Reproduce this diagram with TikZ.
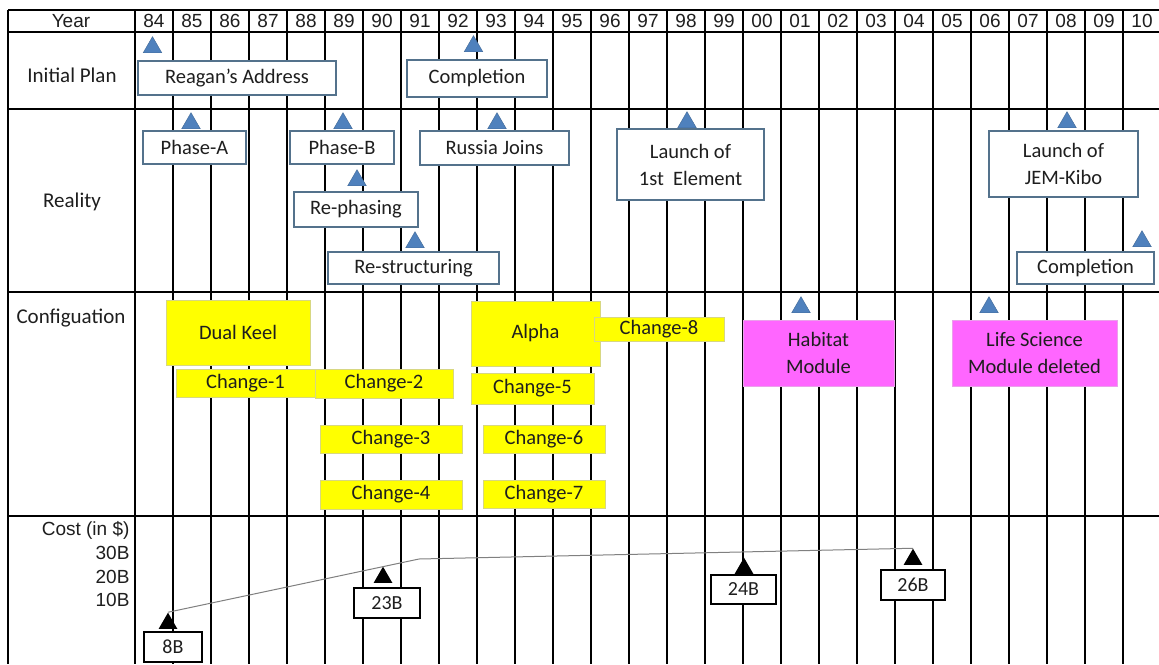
\documentclass[tikz,border=0pt]{standalone}
\usepackage{fontspec}
\setmainfont{Carlito}
\newfontfamily\arialf{Liberation Sans}
\usetikzlibrary{shapes.geometric}
\definecolor{triblue}{RGB}{79,129,189}
\definecolor{tribord}{RGB}{65,105,150}
\definecolor{boxbord}{RGB}{84,114,140}
\definecolor{yel}{RGB}{255,255,0}
\definecolor{yelbord}{RGB}{215,215,130}
\definecolor{mag}{RGB}{255,102,255}
\definecolor{magbord}{RGB}{235,160,235}
\definecolor{inkc}{RGB}{30,30,30}
\begin{document}
\begin{tikzpicture}[x=1pt,y=-1pt,
  vgrid/.style={line width=2pt,black},
  hgrid/.style={line width=2.4pt,black},
  tri/.style={regular polygon,regular polygon sides=3,minimum size=21.5pt,inner sep=0pt,fill=triblue,draw=tribord,line width=0.4pt},
  btri/.style={regular polygon,regular polygon sides=3,minimum size=21.5pt,inner sep=0pt,fill=black},
  txt/.style={font=\fontsize{20.5}{27}\selectfont,align=center,text=inkc},
  wbox/.style={txt,draw=boxbord,fill=white,line width=1.2pt,inner sep=0pt},
  ybox/.style={txt,draw=yelbord,fill=yel,line width=0.8pt,inner sep=0pt},
  mbox/.style={txt,draw=magbord,fill=mag,line width=0.8pt,inner sep=0pt},
  cbox/.style={font=\fontsize{20}{22}\selectfont,text=inkc,draw=black,fill=white,line width=1.5pt,inner sep=0pt},
  yearlbl/.style={font=\arialf\fontsize{19}{21}\selectfont,text=inkc},
  costlbl/.style={font=\arialf\fontsize{19}{21}\selectfont,anchor=east,text=inkc},
  rowlbl/.style={font=\fontsize{21}{24}\selectfont,text=inkc},
  costline/.style={draw=gray,line width=1pt}
]
\useasboundingbox (0,0) rectangle (1159,664);
\clip (0,0) rectangle (1159,664);
\fill[white] (0,0) rectangle (1159,664);
% grid
\draw[vgrid] (8,10) -- (8,664);
\foreach \i in {0,...,27} \draw[vgrid] (135+38*\i,10) -- (135+38*\i,664);
\foreach \yy in {10,32,109,292,516} \draw[hgrid] (8,\yy) -- (1159,\yy);
% header
\node[yearlbl] (year) at (71,21) {Year};
\foreach \yr [count=\i from 0] in {84,85,86,87,88,89,90,91,92,93,94,95,96,97,98,99,00,01,02,03,04,05,06,07,08,09,10}
  \node[yearlbl] (yr\i) at (154+38*\i,21) {\yr};
% row labels
\node[rowlbl] (lip) at (72,75) {Initial Plan};
\node[rowlbl] (lreal) at (72,202) {Reality};
\node[rowlbl,anchor=west] (lconf) at (13,318) {Configuation};
\node[costlbl] (lcost) at (133,530) {Cost (in \$)};
\node[costlbl] (l30) at (133,553) {30B};
\node[costlbl] (l20) at (133,577) {20B};
\node[costlbl] (l10) at (133,600) {10B};
% initial plan
\node[wbox,minimum width=198pt,minimum height=34pt] (reagan) at (237,78) {Reagan's Address};
\node[wbox,minimum width=140pt,minimum height=37pt] (compl1) at (477,78.5) {Completion};
\node[tri] (tip1) at (152.5,47.4) {};
\node[tri] (tip2) at (473.5,46.4) {};
% reality
\node[wbox,minimum width=103pt,minimum height=33pt] (phaseA) at (194.5,147.5) {Phase-A};
\node[wbox,minimum width=104pt,minimum height=33pt] (phaseB) at (342,147.5) {Phase-B};
\node[wbox,minimum width=124pt,minimum height=35pt] (rephase) at (356,209.5) {Re-phasing};
\node[wbox,minimum width=171pt,minimum height=32pt] (restr) at (413.5,268) {Re-structuring};
\node[wbox,minimum width=149pt,minimum height=34pt] (russia) at (494.5,148) {Russia Joins};
\node[wbox,minimum width=147pt,minimum height=71pt] (launch1) at (690.5,164.5) {Launch of\\1st~~Element};
\node[wbox,minimum width=149pt,minimum height=66pt] (launchjem) at (1063.5,164) {Launch of\\JEM-Kibo};
\node[wbox,minimum width=137pt,minimum height=32pt] (compl2) at (1085.5,268) {Completion};
\node[tri] (tA) at (191,123.4) {};
\node[tri] (tB) at (343,123.4) {};
\node[tri] (tRe) at (357,180.4) {};
\node[tri] (tRs) at (415,242.4) {};
\node[tri] (tRu) at (497,123.4) {};
\node[tri] (tL1) at (687,122.4) {};
\node[tri] (tJ) at (1067,122.4) {};
\node[tri] (tC2) at (1142,241.4) {};
% configuration
\node[ybox,minimum width=144pt,minimum height=65pt] (dual) at (238,332.5) {Dual Keel};
\node[ybox,minimum width=139pt,minimum height=28pt] (ch1) at (245.5,383) {Change-1};
\node[ybox,minimum width=138pt,minimum height=29pt] (ch2) at (384,383.5) {Change-2};
\node[ybox,minimum width=142pt,minimum height=28pt] (ch3) at (391,439) {Change-3};
\node[ybox,minimum width=142pt,minimum height=29pt] (ch4) at (391,494.5) {Change-4};
\node[ybox,minimum width=129pt,minimum height=65pt] (alpha) at (535.5,333.5) {Alpha};
\node[ybox,minimum width=123pt,minimum height=31pt] (ch5) at (532.5,388.5) {Change-5};
\node[ybox,minimum width=122pt,minimum height=28pt] (ch6) at (544,439) {Change-6};
\node[ybox,minimum width=122pt,minimum height=28pt] (ch7) at (544,494) {Change-7};
\node[ybox,minimum width=130pt,minimum height=24pt] (ch8) at (659,329) {Change-8};
\node[mbox,minimum width=151pt,minimum height=66pt] (habitat) at (818.5,353) {Habitat\\Module};
\node[mbox,minimum width=165pt,minimum height=66pt] (life) at (1034.5,353) {Life Science\\Module deleted};
\node[tri] (tH) at (801,307.4) {};
\node[tri] (tL) at (989,307.4) {};
% cost
\node[cbox,minimum width=58pt,minimum height=30pt] (c8) at (173,647) {8B};
\node[cbox,minimum width=66pt,minimum height=30pt] (c23) at (387,603) {23B};
\node[cbox,minimum width=65pt,minimum height=29pt] (c24) at (743.5,589.5) {24B};
\node[cbox,minimum width=64pt,minimum height=30pt] (c26) at (913,585) {26B};
\node[btri] (t8) at (168,623.4) {};
\node[btri] (t23) at (383,577.4) {};
\node[btri] (t24) at (744,568.4) {};
\node[btri] (t26) at (913,559.4) {};
\coordinate (bend) at (419,559);
\draw[costline] (t8.corner 1) -- (bend) -- (t26.corner 1);
\end{tikzpicture}
\end{document}
